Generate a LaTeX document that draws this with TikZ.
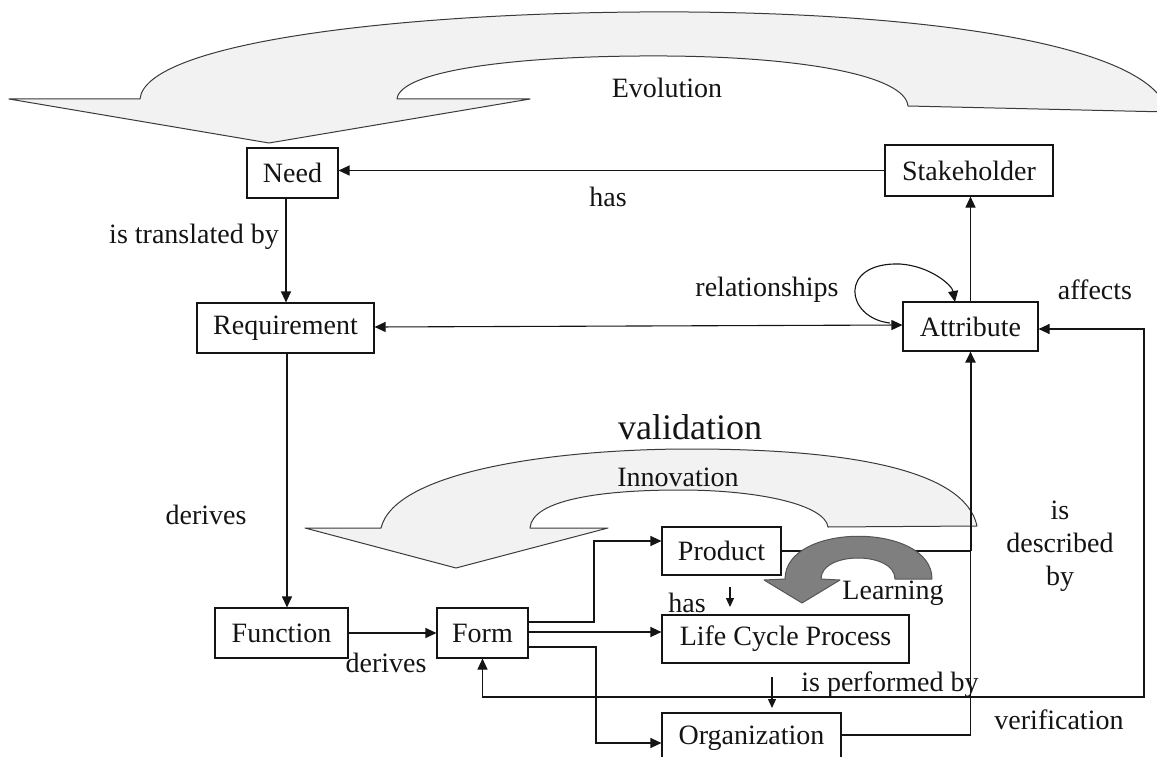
\documentclass[tikz,border=0pt]{standalone}
\usepackage{fontspec}
\setmainfont{Liberation Serif}
\usetikzlibrary{arrows.meta}
\definecolor{bandfill}{HTML}{F2F2F2}
\definecolor{bandline}{HTML}{3A3A3A}
\definecolor{learnfill}{HTML}{7F7F7F}
\definecolor{learnline}{HTML}{555555}
\definecolor{ink}{HTML}{141414}

\begin{document}
\begin{tikzpicture}[x=1pt,y=-1pt,
  box/.style={draw=ink, line width=1.1pt, fill=white, minimum height=50pt,
    inner sep=0pt, font=\fontsize{28}{32}\selectfont, text=ink},
  lbl/.style={inner sep=0pt, font=\fontsize{28}{33}\selectfont, text=ink},
  conn/.style={draw=ink, line width=1.1pt, -{Triangle[length=11pt,width=10pt]}},
  both/.style={draw=ink, line width=1.1pt,
    {Triangle[length=11pt,width=10pt]}-{Triangle[length=11pt,width=10pt]}},
  small/.style={draw=ink, line width=1.1pt, -{Triangle[length=9pt,width=8pt]}},
  plain/.style={draw=ink, line width=1.1pt},
  band/.style={fill=bandfill, draw=bandline, line width=1pt, line join=round},
  learnband/.style={fill=learnfill, draw=learnline, line width=1pt, line join=round},
]
\useasboundingbox (0,0) rectangle (1157,757);
\clip (0,0) rectangle (1157,757);

% large curved arrows
\path[band] (269,143) -- (9,99) -- (140,99)
  .. controls (145,45) and (380,14) .. (640,12)
  .. controls (900,10) and (1150,40) .. (1168,112)
  -- (908,106)
  .. controls (905,75) and (800,57) .. (667,56)
  .. controls (520,55) and (400,70) .. (397,99)
  -- (530,99) -- cycle;

\path[band] (456,568) -- (305,528) -- (381,528)
  .. controls (395,470) and (560,449) .. (690,449)
  .. controls (850,449) and (965,470) .. (977,526)
  -- (828,527)
  .. controls (825,505) and (760,490) .. (680,490)
  .. controls (600,490) and (532,500) .. (530,528)
  -- (608,528) -- cycle;

% boxes
\node[box, minimum width=91pt]  (need)  at (292.5,173) {Need};
\node[box, minimum width=168pt, minimum height=51pt] (stake) at (969,170.5) {Stakeholder};
\node[box, minimum width=177pt] (req)   at (285.5,328) {Requirement};
\node[box, minimum width=135pt, minimum height=49pt] (attr)  at (970.5,326.5) {Attribute};
\node[box, minimum width=133pt] (func)  at (281.5,633) {Function};
\node[box, minimum width=91pt]  (form)  at (482.5,633) {Form};
\node[box, minimum width=119pt, minimum height=48pt] (prod)  at (721.5,551) {Product};
\node[box, minimum width=247pt, minimum height=48pt] (lcp)   at (785.5,639) {Life Cycle Process};
\node[box, minimum width=179pt] (org)   at (751.5,738) {Organization};

% connectors
\draw[conn] (stake.west) -- (need.east |- stake.west);
\draw[conn] (need.south -| 286,0) -- (req.north -| 286,0);
\draw[both] (req.east |- 0,327) -- (attr.west |- 0,325);
\draw[conn] (attr.north) -- (stake.south -| attr.north);
\draw[conn] (890,323) .. controls (845,318) and (838,262) .. (900,264)
  .. controls (930,266) and (952,285) .. (955,302);
\draw[conn] (req.south -| 287,0) -- (func.north -| 287,0);
\draw[conn] (func.east) -- (form.west);
\draw[conn] (form.east |- 0,622) -| (594,541) -- (prod.west |- 0,541);
\draw[conn] (form.east |- 0,632) -- (lcp.west |- 0,632);
\draw[conn] (form.east |- 0,647) -| (596,743) -- (org.west |- 0,743);
\draw[plain] (prod.east) -- (prod.east -| attr.south);
\draw[plain] (org.east |- 0,735) -| (prod.east -| attr.south);
\draw[conn, line width=2pt] (prod.east -| attr.south) -- (attr.south);
\draw[both] (form.south) |- (1144,697) |- (attr.east |- 0,329);
\coordinate (hasTop) at (730,587);
\coordinate (hasEnd) at (730,607);
\draw[small] (hasTop) -- (hasEnd);
\coordinate (perfTop) at (772,677);
\coordinate (perfEnd) at (772,708);
\draw[small] (perfTop) -- (perfEnd);

% small learning arrow
\path[learnband] (785,579) .. controls (785,522) and (932,522) .. (932,579)
  -- (895,579) .. controls (895,551) and (821,551) .. (821,579)
  -- (840,580) -- (802,603) -- (764,580) -- cycle;

% labels
\node[lbl] (evo)    at (667,88)  {Evolution};
\node[lbl] (hasA)   at (608,197) {has};
\node[lbl] (transl) at (194,237) {is translated by};
\node[lbl] (rel)    at (767,290) {relationships};
\node[lbl] (aff)    at (1095,290) {affects};
\node[lbl, font=\fontsize{36}{40}\selectfont] (valid) at (690,427) {validation};
\node[lbl] (innov)  at (678,477) {Innovation};
\node[lbl] (der1)   at (206,515) {derives};
\node[lbl] (der2)   at (386,663) {derives};
\node[lbl] (hasB)   at (687,603) {has};
\node[lbl] (learn)  at (893,593) {Learning};
\node[lbl] (perf)   at (890,685) {is performed by};
\node[lbl, align=center] (descr) at (1060,546) {is\\described\\by};
\node[lbl] (verif)  at (1059,720) {verification};
\end{tikzpicture}
\end{document}
